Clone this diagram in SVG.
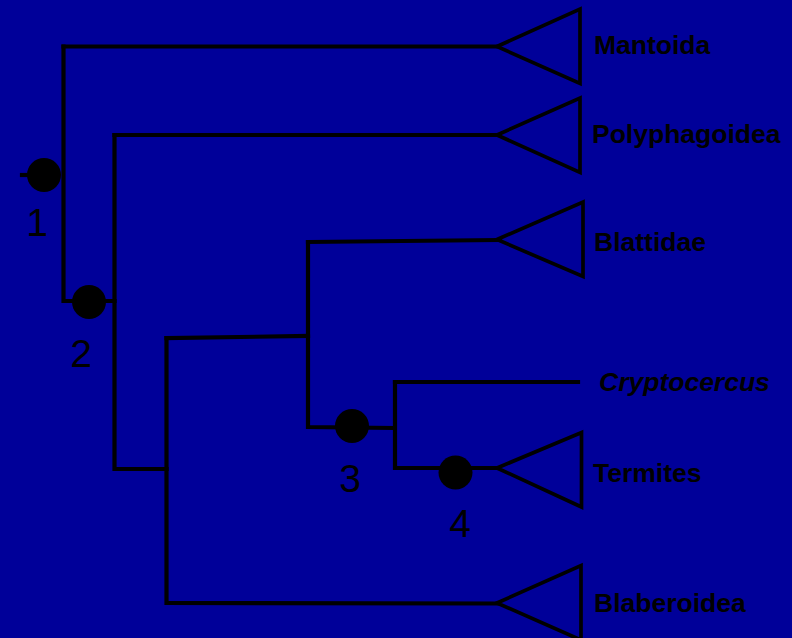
<svg xmlns="http://www.w3.org/2000/svg" width="792" height="638" viewBox="0 0 792 638">
<style>
.br{fill:none;stroke:#000;stroke-width:4.2;stroke-linecap:square;stroke-linejoin:miter}
.tri{fill:none;stroke:#000;stroke-width:3.7;stroke-linejoin:miter}
.dot{fill:#000}
.lab{font-family:"Liberation Sans",Arial,sans-serif;font-weight:bold;font-size:26.5px;fill:#000}
.num{font-family:"Liberation Sans",Arial,sans-serif;font-size:39px;fill:#000;text-anchor:middle}
</style>
<rect width="792" height="638" fill="#000099"/>
<g id="connectors">
<path class="br" d="M22,175 H44"/>
<path class="br" d="M63.5,46.5 V301 H114.5"/>
<path class="br" d="M63.5,46.5 H497"/>
<path class="br" d="M114.5,135 V469 H166.5"/>
<path class="br" d="M114.5,135 H497"/>
<path class="br" d="M166.5,338 L308,336"/>
<path class="br" d="M166.5,338 V603 L497,603.5"/>
<path class="br" d="M308,242 L497,240"/>
<path class="br" d="M308,242 V427 L393,428"/>
<path class="br" d="M395,382 V468 H497"/>
<path class="br" d="M395,382 H578"/>
</g>
<g id="node1"><circle class="dot" cx="44" cy="175" r="17"/><text class="num" x="37" y="236">1</text></g>
<g id="node2"><circle class="dot" cx="89" cy="302" r="17"/><text class="num" x="81" y="367">2</text></g>
<g id="node3"><circle class="dot" cx="352" cy="426" r="17"/><text class="num" x="350" y="492">3</text></g>
<g id="node4"><circle class="dot" cx="455.5" cy="472.5" r="17"/><text class="num" x="460" y="537">4</text></g>
<g id="mantoida"><polygon class="tri" points="497,46.5 580,9 580,83.5"/><text class="lab" x="594" y="54">Mantoida</text></g>
<g id="polyphagoidea"><polygon class="tri" points="497,135 580,98 580,172.5"/><text class="lab" x="592" y="143">Polyphagoidea</text></g>
<g id="blattidae"><polygon class="tri" points="497,239.5 583,202 583,276.5"/><text class="lab" x="594" y="251">Blattidae</text></g>
<g id="cryptocercus"><text class="lab" x="599" y="391" font-style="italic">Cryptocercus</text></g>
<g id="termites"><polygon class="tri" points="497,468 581.5,432.5 581.5,507"/><text class="lab" x="593" y="482">Termites</text></g>
<g id="blaberoidea"><polygon class="tri" points="497,603 581,565.5 581,640"/><text class="lab" x="594" y="612">Blaberoidea</text></g>
</svg>
